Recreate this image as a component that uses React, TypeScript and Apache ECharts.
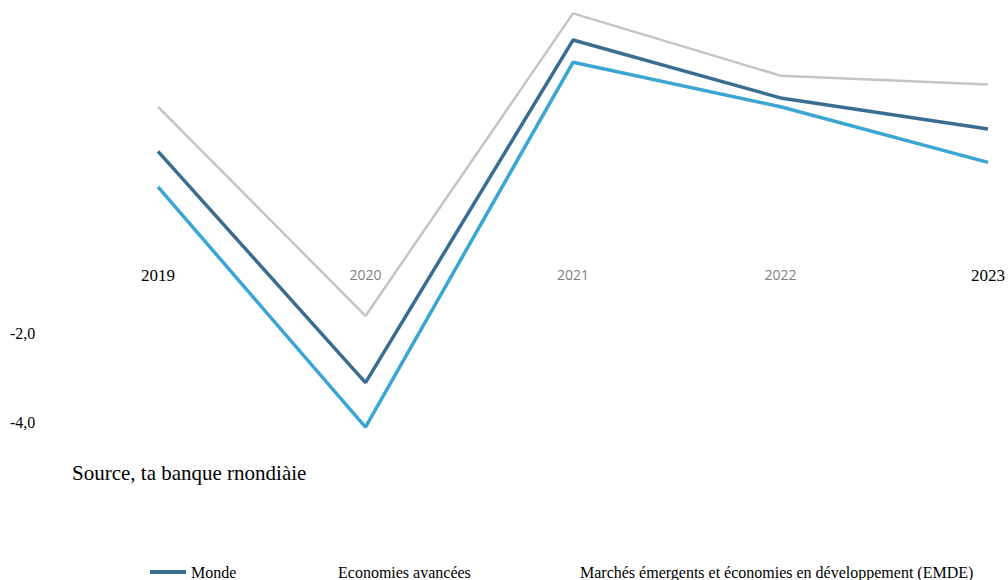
import React, { useEffect, useRef } from "react";
import * as echarts from "echarts";

const years = ["2019", "2020", "2021", "2022", "2023"];
const monde = [2.1, -3.1, 4.6, 3.3, 2.6];
const avancees = [1.3, -4.1, 4.1, 3.1, 1.85];
const emde = [3.1, -1.6, 5.2, 3.8, 3.6];
const yTickLabels: Record<string, string> = { "-2": "-2,0", "-4": "-4,0" };
const sourceText = "Source, ta banque rnondiàie";
const nameMonde = "Monde";
const nameAv = "Economies avancées";
const nameEmde = "Marchés émergents et économies en développement (EMDE)";

const serif = '"Liberation Serif", "Times New Roman", serif';

export default function App() {
  const ref = useRef<HTMLDivElement>(null);
  useEffect(() => {
    if (!ref.current) return;
    const chart = echarts.init(ref.current, undefined, { renderer: "svg" });
    const legendText = { fontFamily: serif, fontSize: 16, color: "#000" };
    chart.setOption({
      animation: false,
      backgroundColor: "#fff",
      grid: { left: 158, right: 18, top: 0, height: 445, containLabel: false },
      xAxis: {
        type: "category",
        position: "bottom",
        offset: -200,
        boundaryGap: false,
        data: years.map((y, i) =>
          i === 0 || i === years.length - 1
            ? { value: y, textStyle: { fontFamily: serif, fontSize: 17, fontWeight: "normal", color: "#000" } }
            : { value: y, textStyle: { fontFamily: '"Open Sans", sans-serif', fontSize: 14, color: "#7f7f7f" } }
        ),
        axisLine: { show: false, onZero: false },
        axisTick: { show: false },
        splitLine: { show: false },
        axisLabel: { margin: 22, interval: 0 },
      },
      yAxis: {
        type: "value",
        min: -4.5,
        max: 5.5,
        interval: 0.5,
        axisLine: { show: false },
        axisTick: { show: false },
        splitLine: { show: false },
        axisLabel: {
          align: "left",
          margin: 148,
          fontFamily: serif,
          fontSize: 16,
          color: "#000",
          formatter: (v: number) => yTickLabels[String(v)] ?? "",
        },
      },
      legend: [
        {
          left: 150,
          top: 564,
          padding: 0,
          icon: "rect",
          itemWidth: 36,
          itemHeight: 4,
          itemGap: 0,
          textStyle: legendText,
          data: [nameMonde],
        },
        {
          left: 333,
          top: 564,
          padding: 0,
          icon: "rect",
          itemWidth: 0,
          itemHeight: 0,
          textStyle: legendText,
          data: [{ name: nameAv, itemStyle: { opacity: 0 } }],
        },
        {
          left: 575,
          top: 564,
          padding: 0,
          icon: "rect",
          itemWidth: 0,
          itemHeight: 0,
          textStyle: legendText,
          data: [{ name: nameEmde, itemStyle: { opacity: 0 } }],
        },
      ],
      graphic: [
        {
          type: "text",
          x: 72,
          y: 473,
          style: {
            text: sourceText,
            fontFamily: serif,
            fontSize: 21,
            fill: "#000",
            verticalAlign: "middle",
          },
        },
      ],
      series: [
        {
          name: nameEmde,
          type: "line",
          data: emde,
          showSymbol: false,
          clip: false,
          itemStyle: { color: "#c4c4c4" },
          lineStyle: { color: "#c4c4c4", width: 2.5 },
        },
        {
          name: nameAv,
          type: "line",
          data: avancees,
          showSymbol: false,
          clip: false,
          itemStyle: { color: "#3ba6d3" },
          lineStyle: { color: "#3ba6d3", width: 3.5 },
        },
        {
          name: nameMonde,
          type: "line",
          data: monde,
          showSymbol: false,
          clip: false,
          itemStyle: { color: "#3a6e90" },
          lineStyle: { color: "#3a6e90", width: 3.5 },
        },
      ],
    });
    return () => chart.dispose();
  }, []);
  return (
    <div
      ref={ref}
      style={{ position: "absolute", left: 0, top: 0, width: 1008, height: 580 }}
    />
  );
}
